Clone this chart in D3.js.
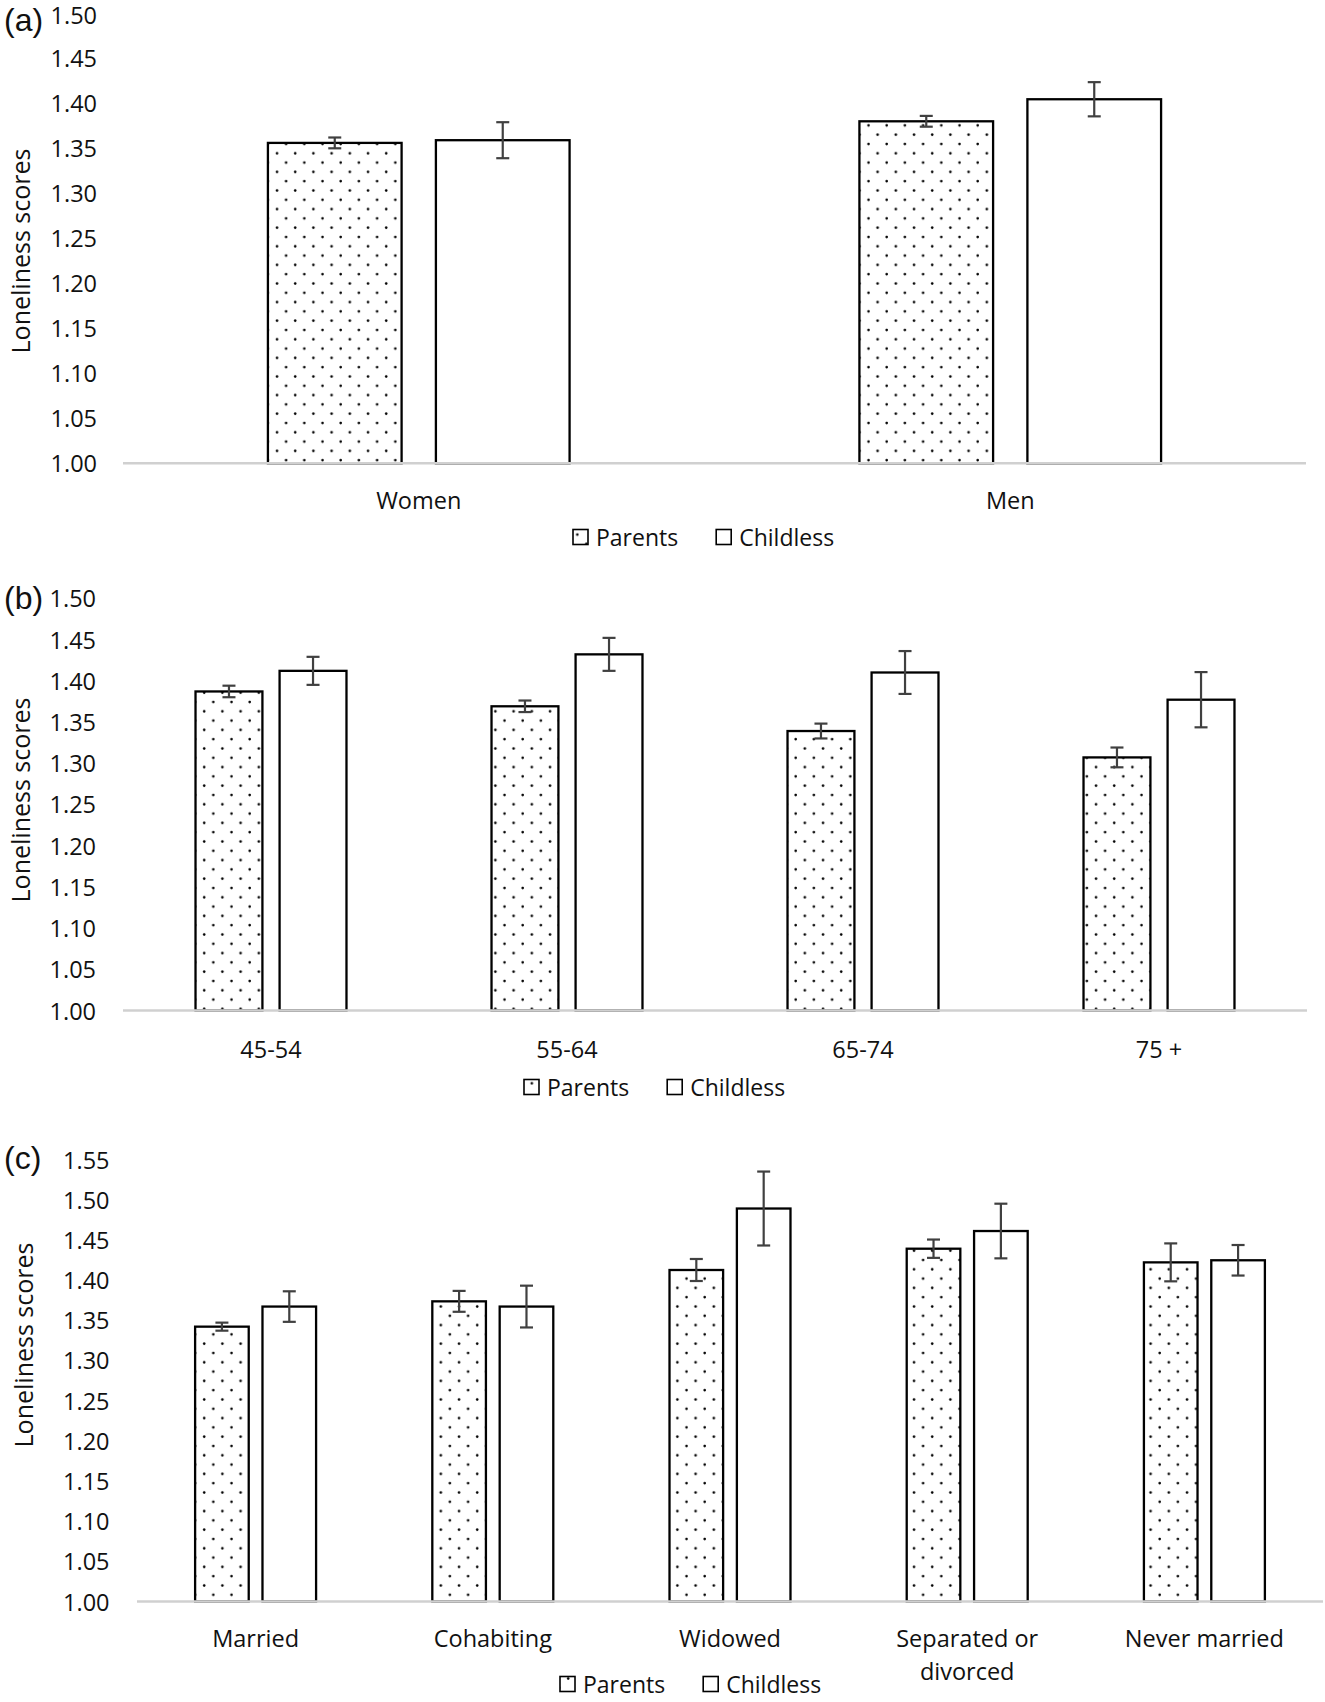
<!DOCTYPE html>
<html>
<head>
<meta charset="utf-8">
<script src="https://cdn.jsdelivr.net/npm/d3@7"></script>
<style>
  html, body { margin: 0; padding: 0; background: #fff; }
  svg { display: block; }
  text { font-family: "Open Sans", "Noto Sans", sans-serif; fill: #111; }
</style>
</head>
<body>
<div id="chart"></div>
<script>
// ---------- DATA ----------
const seriesNames = ["Parents", "Childless"];
const yAxisTitle = "Loneliness scores";

// Panel (a): gender
const categoriesA = ["Women", "Men"];
const parentsA = [1.356, 1.380];
const parentsErrA = [0.006, 0.006];
const childlessA = [1.359, 1.4045];
const childlessErrA = [0.020, 0.019];
const ticksA = [1.00, 1.05, 1.10, 1.15, 1.20, 1.25, 1.30, 1.35, 1.40, 1.45, 1.50];

// Panel (b): age group
const categoriesB = ["45-54", "55-64", "65-74", "75 +"];
const parentsB = [1.387, 1.369, 1.339, 1.307];
const parentsErrB = [0.007, 0.007, 0.009, 0.012];
const childlessB = [1.412, 1.432, 1.410, 1.377];
const childlessErrB = [0.017, 0.020, 0.026, 0.0335];
const ticksB = [1.00, 1.05, 1.10, 1.15, 1.20, 1.25, 1.30, 1.35, 1.40, 1.45, 1.50];

// Panel (c): marital status
const categoriesC = ["Married", "Cohabiting", "Widowed", "Separated or\ndivorced", "Never married"];
const parentsC = [1.342, 1.3735, 1.4125, 1.439, 1.422];
const parentsErrC = [0.005, 0.013, 0.0137, 0.0114, 0.0236];
const childlessC = [1.367, 1.367, 1.489, 1.461, 1.4246];
const childlessErrC = [0.019, 0.026, 0.046, 0.034, 0.019];
const ticksC = [1.00, 1.05, 1.10, 1.15, 1.20, 1.25, 1.30, 1.35, 1.40, 1.45, 1.50, 1.55];

// ---------- LAYOUT ----------
const W = 1325, H = 1702;
const panels = [
  { tag: "(a)", cats: categoriesA, p: parentsA, pe: parentsErrA, c: childlessA, ce: childlessErrA, ticks: ticksA,
    x0: 123, x1: 1306, yTop: 13.3, yBottom: 463.3, tagY: 19, titleX: 20, titleY: 251,
    labelGap: 26, catY: 500, legendX: 573, legendY: 537 },
  { tag: "(b)", cats: categoriesB, p: parentsB, pe: parentsErrB, c: childlessB, ce: childlessErrB, ticks: ticksB,
    x0: 123, x1: 1307, yTop: 598.3, yBottom: 1010.5, tagY: 598, titleX: 20, titleY: 800,
    labelGap: 27, catY: 1049, legendX: 524, legendY: 1087 },
  { tag: "(c)", cats: categoriesC, p: parentsC, pe: parentsErrC, c: childlessC, ce: childlessErrC, ticks: ticksC,
    x0: 137, x1: 1323, yTop: 1159.5, yBottom: 1601.5, tagY: 1158, titleX: 23, titleY: 1345,
    labelGap: 27.5, catY: 1638, legendX: 560, legendY: 1684 }
];

const svg = d3.select("#chart").append("svg").attr("width", W).attr("height", H);

const defs = svg.append("defs");
const pat = defs.append("pattern").attr("id", "dots")
  .attr("patternUnits", "userSpaceOnUse").attr("width", 18.2).attr("height", 18.6);
pat.append("rect").attr("width", 18.2).attr("height", 18.6).attr("fill", "#fff");
pat.append("circle").attr("cx", 4).attr("cy", 4.5).attr("r", 1.3).attr("fill", "#000");
pat.append("circle").attr("cx", 13.1).attr("cy", 13.8).attr("r", 1.3).attr("fill", "#000");

const fills = ["url(#dots)", "#fff"];
const FS = 23.5;

panels.forEach(P => {
  const g = svg.append("g");
  const y = d3.scaleLinear().domain([P.ticks[0], P.ticks[P.ticks.length - 1]]).range([P.yBottom, P.yTop]);
  const x = d3.scaleBand().domain(P.cats).range([P.x0, P.x1]).padding(0);
  const bw = x.bandwidth();
  const barW = 0.226 * bw, gap = 0.058 * bw;
  const R = 2 * barW + gap;
  const inner = d3.scaleBand().domain(seriesNames).range([-R / 2, R / 2])
    .paddingInner(gap / (barW + gap)).paddingOuter(0);

  // y tick labels
  g.selectAll("text.tick").data(P.ticks).join("text")
    .attr("class", "tick")
    .attr("x", P.x0 - P.labelGap)
    .attr("y", d => Math.max(y(d), 15))
    .attr("text-anchor", "end")
    .attr("dominant-baseline", "central")
    .style("font-size", FS + "px")
    .text(d => d3.format(".2f")(d));

  // panel tag
  g.append("text").attr("x", 4).attr("y", Math.max(P.tagY, 20))
    .attr("dominant-baseline", "central")
    .style("font-family", "'Liberation Sans', Arial, sans-serif")
    .style("font-size", "32px")
    .text(P.tag);

  // y axis title
  g.append("text")
    .attr("transform", `translate(${P.titleX},${P.titleY}) rotate(-90)`)
    .attr("text-anchor", "middle")
    .attr("dominant-baseline", "central")
    .style("font-size", "25px")
    .text(yAxisTitle);

  // bars
  const rows = [];
  P.cats.forEach((cat, i) => {
    rows.push({ cat, s: 0, v: P.p[i], e: P.pe[i] });
    rows.push({ cat, s: 1, v: P.c[i], e: P.ce[i] });
  });
  const cx = d => x(d.cat) + bw / 2 + inner(seriesNames[d.s]);

  g.selectAll("rect.bar").data(rows).join("rect")
    .attr("class", "bar")
    .attr("x", d => cx(d))
    .attr("y", d => y(d.v))
    .attr("width", inner.bandwidth())
    .attr("height", d => y(P.ticks[0]) - y(d.v))
    .attr("fill", d => fills[d.s])
    .attr("stroke", "#000")
    .attr("stroke-width", 2.3);

  // x axis line
  g.append("line")
    .attr("x1", P.x0).attr("x2", P.x1)
    .attr("y1", y(P.ticks[0])).attr("y2", y(P.ticks[0]))
    .attr("stroke", "#d0d0d0").attr("stroke-width", 2.6);

  // error bars
  const eb = g.selectAll("g.err").data(rows).join("g").attr("class", "err")
    .attr("stroke", "#404040").attr("stroke-width", 2.2);
  const mid = d => cx(d) + inner.bandwidth() / 2;
  eb.append("line")
    .attr("x1", mid).attr("x2", mid)
    .attr("y1", d => y(d.v + d.e)).attr("y2", d => y(d.v - d.e));
  eb.append("line")
    .attr("x1", d => mid(d) - 6.5).attr("x2", d => mid(d) + 6.5)
    .attr("y1", d => y(d.v + d.e)).attr("y2", d => y(d.v + d.e));
  eb.append("line")
    .attr("x1", d => mid(d) - 6.5).attr("x2", d => mid(d) + 6.5)
    .attr("y1", d => y(d.v - d.e)).attr("y2", d => y(d.v - d.e));

  // category labels
  P.cats.forEach(cat => {
    const lines = cat.split("\n");
    const t = g.append("text")
      .attr("x", x(cat) + bw / 2)
      .attr("y", P.catY)
      .attr("text-anchor", "middle")
      .attr("dominant-baseline", "central")
      .style("font-size", FS + "px");
    lines.forEach((ln, k) => {
      t.append("tspan").attr("x", x(cat) + bw / 2).attr("dy", k === 0 ? 0 : 33).text(ln);
    });
  });

  // legend
  let lx = P.legendX;
  seriesNames.forEach((name, s) => {
    g.append("rect")
      .attr("x", lx).attr("y", P.legendY - 7.5)
      .attr("width", 15).attr("height", 15)
      .attr("fill", s === 0 ? "url(#dots)" : "#fff")
      .attr("stroke", "#000").attr("stroke-width", 1.6);
    const t = g.append("text")
      .attr("x", lx + 23).attr("y", P.legendY)
      .attr("dominant-baseline", "central")
      .style("font-size", "23px")
      .text(name);
    lx = lx + 23 + t.node().getComputedTextLength() + 38;
  });
});
</script>
</body>
</html>
